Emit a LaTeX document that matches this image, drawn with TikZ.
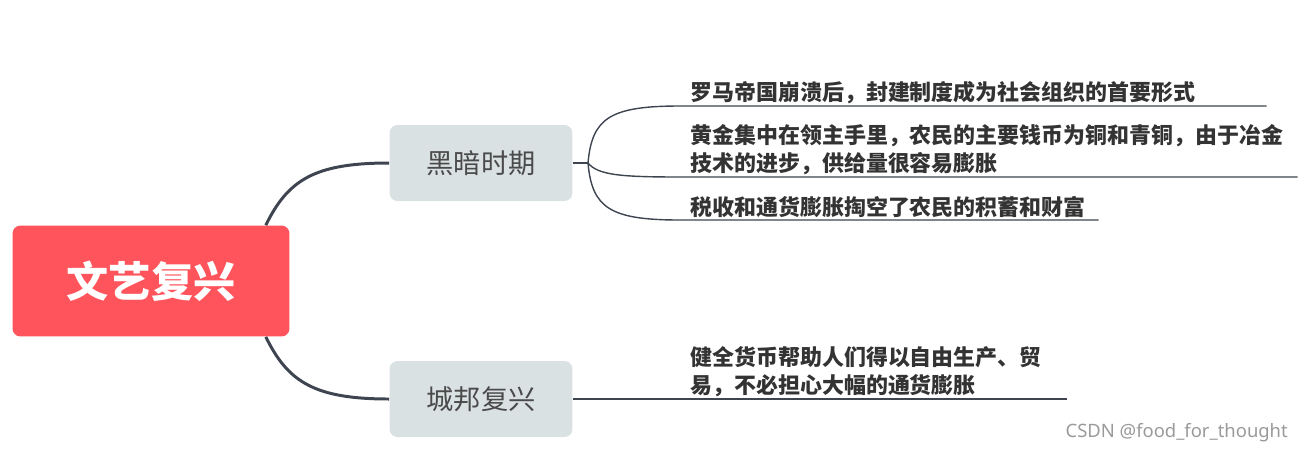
\documentclass[tikz,border=0pt]{standalone}
\usepackage{fontspec}
\newfontfamily\cjk{Noto Sans CJK SC}
\newfontfamily\markfont{Noto Sans}
\definecolor{rootred}{HTML}{FF545C}
\definecolor{topicgray}{HTML}{DAE1E3}
\definecolor{trunkgray}{HTML}{3E4550}
\definecolor{leafgray}{HTML}{333333}
\definecolor{topictext}{HTML}{4A4A4A}
\definecolor{markgray}{HTML}{9A9A9A}

\begin{document}
\begin{tikzpicture}[x = 0.02cm, y = -0.02cm,
    root/.style = {fill = rootred, rounded corners = 0.16cm, minimum width = 5.54cm,
        minimum height = 2.22cm, text = white, font = \cjk\bfseries\fontsize{24pt}{28pt}\selectfont},
    topic/.style = {fill = topicgray, rounded corners = 0.16cm, minimum width = 3.66cm,
        minimum height = 1.52cm, text = topictext, font = \cjk\fontsize{15.5pt}{18pt}\selectfont},
    leaf/.style = {anchor = south west, align = left, inner xsep = 0.2cm, inner ysep = 0.04cm,
        text = leafgray, font = \cjk\bfseries\fontsize{12.5pt}{15.9pt}\selectfont},
    trunk/.style = {draw = trunkgray, line width = 1.7pt},
    twig/.style = {draw = trunkgray, line width = 0.8pt}]

    \useasboundingbox (0, 0) rectangle (1308, 454);

    % Centre and topics
    \node [root] (renaissance) at (151, 281) {文艺复兴};
    \node [topic] (dark) at (481, 163) {黑暗时期};
    \node [topic] (city) at (481, 399) {城邦复兴};

    \draw [trunk] ([xshift = -0.48cm]renaissance.north east) .. controls +(22, -45) and +(-75, 0) .. (dark.west);
    \draw [trunk] ([xshift = -0.48cm]renaissance.south east) .. controls +(22, 45) and +(-75, 0) .. (city.west);

    % Leaves of the dark ages
    \node [leaf, text width = 11.32cm] (feudal) at (680, 106) {罗马帝国崩溃后，封建制度成为社会组织的首要形式};
    \node [leaf, text width = 11.94cm] (gold) at (680, 177) {黄金集中在领主手里，农民的主要钱币为铜和青铜，由于冶金\\技术的进步，供给量很容易膨胀};
    \node [leaf, text width = 7.96cm] (taxes) at (680, 220) {税收和通货膨胀掏空了农民的积蓄和财富};

    \coordinate (fork) at (588, 163);
    \draw [twig] (dark.east) -- (fork);
    \draw [twig] (fork) .. controls +(4, -45) and +(-70, 0) .. (feudal.south west) -- (feudal.south east);
    \draw [twig] (fork) .. controls +(10, 12) and +(-60, 0) .. (gold.south west) -- (gold.south east);
    \draw [twig] (fork) .. controls +(4, 45) and +(-70, 0) .. (taxes.south west) -- (taxes.south east);

    % Leaf of the city states
    \node [leaf, text width = 7.32cm] (money) at (680, 399) {健全货币帮助人们得以自由生产、贸\\易，不必担心大幅的通货膨胀};
    \draw [twig] (city.east) -- (money.south west) -- (money.south east);

    % Watermark
    \node [anchor = east, text = markgray, font = \markfont\fontsize{10.5pt}{12pt}\selectfont] (mark) at (1294, 433) {CSDN @food\_for\_thought};

\end{tikzpicture}
\end{document}
